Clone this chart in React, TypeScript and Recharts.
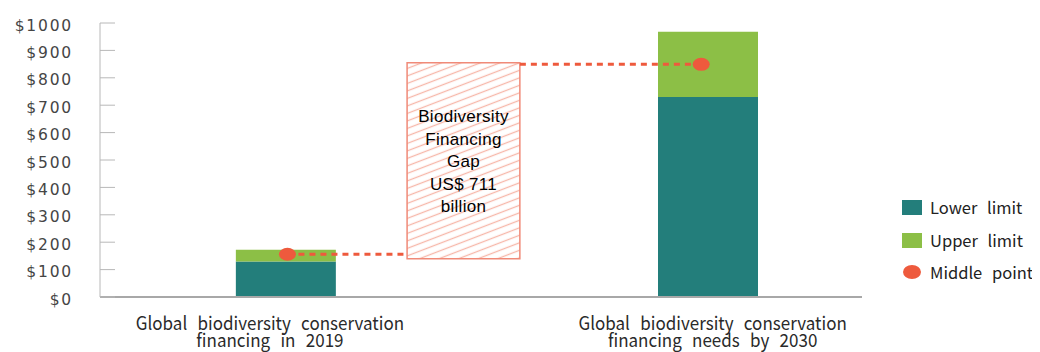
import React from "react";
import {
  ComposedChart,
  Bar,
  Scatter,
  XAxis,
  YAxis,
  ReferenceArea,
  ReferenceLine,
  Legend,
} from "recharts";

// ─── Data ─────────────────────────────────────────────────────────────────────

// horizontal scale runs 0–100 so the bars and the gap box sit where the source has them
const CATEGORY_LABELS = [
  ["Global biodiversity conservation", "financing in 2019"],
  ["Global biodiversity conservation", "financing needs by 2030"],
];
const LABEL_X = [22.3, 80.4];
const BAR_X = [24.4, 79.8];
const LOWER_LIMIT = [130, 730];
const UPPER_LIMIT = [172, 968];
const MIDDLE_X = [24.6, 78.9];
const MIDDLE_POINT = [156, 849];
const GAP_X = [40.3, 55.1];
const GAP_Y = [140, 855];
const GAP_TEXT = ["Biodiversity", "Financing", "Gap", "US$  711", "billion"];
const Y_TICKS = [0, 100, 200, 300, 400, 500, 600, 700, 800, 900, 1000];
const LEGEND_ORDER = ["Lower limit", "Upper limit", "Middle point"];

const TEAL = "#237e7b";
const GREEN = "#8cbf46";
const RED = "#ee5a3d";

const barData = BAR_X.map((x, i) => ({
  x,
  lower: LOWER_LIMIT[i],
  upper: UPPER_LIMIT[i] - LOWER_LIMIT[i],
}));

const midData = MIDDLE_X.map((x, i) => ({ x, mid: MIDDLE_POINT[i] }));

// ─── Custom pieces ────────────────────────────────────────────────────────────

// two-line category label, set in a tall narrow face like the source
function CategoryTick({ x, y, payload }: any) {
  const idx = LABEL_X.indexOf(payload.value);
  const lines = CATEGORY_LABELS[idx] ?? [];
  return (
    <g transform={`translate(${x},${y}) scale(0.92,1)`}>
      <text
        x={0}
        y={0}
        textAnchor="middle"
        fill="#2a2a2a"
        fontSize={18.5}
        fontFamily="'Noto Sans CJK KR', sans-serif"
        style={{ wordSpacing: 7 }}
      >
        {lines.map((line, k) => (
          <tspan key={k} x={0} dy={k === 0 ? 25 : 17.5}>
            {line}
          </tspan>
        ))}
      </text>
    </g>
  );
}

function GapLabel({ viewBox }: any) {
  if (!viewBox) return null;
  const cx = viewBox.x + viewBox.width / 2;
  const cy = viewBox.y + viewBox.height / 2;
  const lh = 22.5;
  const top = cy - ((GAP_TEXT.length - 1) * lh) / 2 + 1;
  return (
    <text
      x={cx}
      textAnchor="middle"
      fill="#000"
      fontSize={17}
      fontFamily="'Liberation Sans', Arial, sans-serif"
      letterSpacing={0.3}
    >
      {GAP_TEXT.map((line, k) => (
        <tspan key={k} x={cx} y={top + k * lh} dominantBaseline="central">
          {line}
        </tspan>
      ))}
    </text>
  );
}

function MidDot({ cx, cy }: any) {
  return <ellipse cx={cx} cy={cy} rx={8.5} ry={6.5} fill={RED} />;
}

function LegendBox({ payload }: any) {
  const items = [...(payload ?? [])].sort(
    (a: any, b: any) => LEGEND_ORDER.indexOf(a.value) - LEGEND_ORDER.indexOf(b.value)
  );
  return (
    <div style={{ display: "flex", flexDirection: "column" }}>
      {items.map((entry: any) => (
        <div
          key={entry.value}
          style={{ height: 32.5, display: "flex", alignItems: "center", whiteSpace: "nowrap" }}
        >
          <svg width={20} height={16} style={{ flexShrink: 0 }}>
            {entry.type === "circle" ? (
              <ellipse cx={10} cy={8} rx={9} ry={7} fill={entry.color} />
            ) : (
              <rect x={0} y={1} width={20} height={15} fill={entry.color} />
            )}
          </svg>
          <span
            style={{
              marginLeft: 8,
              fontFamily: "'Noto Sans CJK KR', sans-serif",
              fontSize: 16.5,
              color: "#222",
              wordSpacing: 6,
              lineHeight: 1,
            }}
          >
            {entry.value}
          </span>
        </div>
      ))}
    </div>
  );
}

// ─── Main component ───────────────────────────────────────────────────────────

export default function App() {
  return (
    <ComposedChart
      width={1032}
      height={360}
      data={barData}
      margin={{ top: 15, right: 178, bottom: 11, left: 0 }}
    >
      <defs>
        <pattern
          id="gapHatch"
          width={8}
          height={7}
          patternUnits="userSpaceOnUse"
          patternTransform="rotate(-21)"
        >
          <rect width={8} height={7} fill="#fff" />
          <line x1={0} y1={3.5} x2={8} y2={3.5} stroke="#f7b6a8" strokeWidth={1.3} />
        </pattern>
      </defs>

      <XAxis
        dataKey="x"
        type="number"
        domain={[0, 100]}
        ticks={LABEL_X}
        tick={<CategoryTick />}
        tickLine={false}
        axisLine={{ stroke: "#a8a8a8", strokeWidth: 2 }}
        height={60}
        interval={0}
      />
      {/* second, hidden axis for the middle points so they don't narrow the bars */}
      <XAxis xAxisId="mid" dataKey="x" type="number" domain={[0, 100]} hide />
      <YAxis
        type="number"
        domain={[0, 1000]}
        ticks={Y_TICKS}
        width={92}
        tickSize={-15}
        tickMargin={42}
        tickFormatter={(v: number) => `$${v}`}
        tick={{
          fill: "#454545",
          fontSize: 15.5,
          fontFamily: "'DejaVu Sans', sans-serif",
          letterSpacing: 1.8,
          dy: 2,
        }}
        axisLine={{ stroke: "#b8b8b8" }}
        tickLine={{ stroke: "#b8b8b8" }}
        interval={0}
      />

      <ReferenceArea
        x1={GAP_X[0]}
        x2={GAP_X[1]}
        y1={GAP_Y[0]}
        y2={GAP_Y[1]}
        fill="url(#gapHatch)"
        fillOpacity={1}
        stroke="#f08a78"
        strokeWidth={1.5}
        label={<GapLabel />}
      />

      <ReferenceLine
        segment={[
          { x: MIDDLE_X[0], y: MIDDLE_POINT[0] },
          { x: GAP_X[0], y: MIDDLE_POINT[0] },
        ]}
        stroke={RED}
        strokeWidth={3}
        strokeDasharray="6 5"
      />
      <ReferenceLine
        segment={[
          { x: GAP_X[1], y: MIDDLE_POINT[1] },
          { x: MIDDLE_X[1], y: MIDDLE_POINT[1] },
        ]}
        stroke={RED}
        strokeWidth={3}
        strokeDasharray="6 5"
      />

      <Bar
        dataKey="lower"
        name="Lower limit"
        stackId="a"
        fill={TEAL}
        barSize={100}
        isAnimationActive={false}
      />
      <Bar
        dataKey="upper"
        name="Upper limit"
        stackId="a"
        fill={GREEN}
        barSize={100}
        isAnimationActive={false}
      />
      <Scatter
        xAxisId="mid"
        data={midData}
        dataKey="mid"
        name="Middle point"
        fill={RED}
        legendType="circle"
        shape={<MidDot />}
        isAnimationActive={false}
      />

      <Legend
        layout="vertical"
        align="center"
        verticalAlign="middle"
        content={<LegendBox />}
        wrapperStyle={{ left: 894, top: 183, width: 138 }}
      />
    </ComposedChart>
  );
}
